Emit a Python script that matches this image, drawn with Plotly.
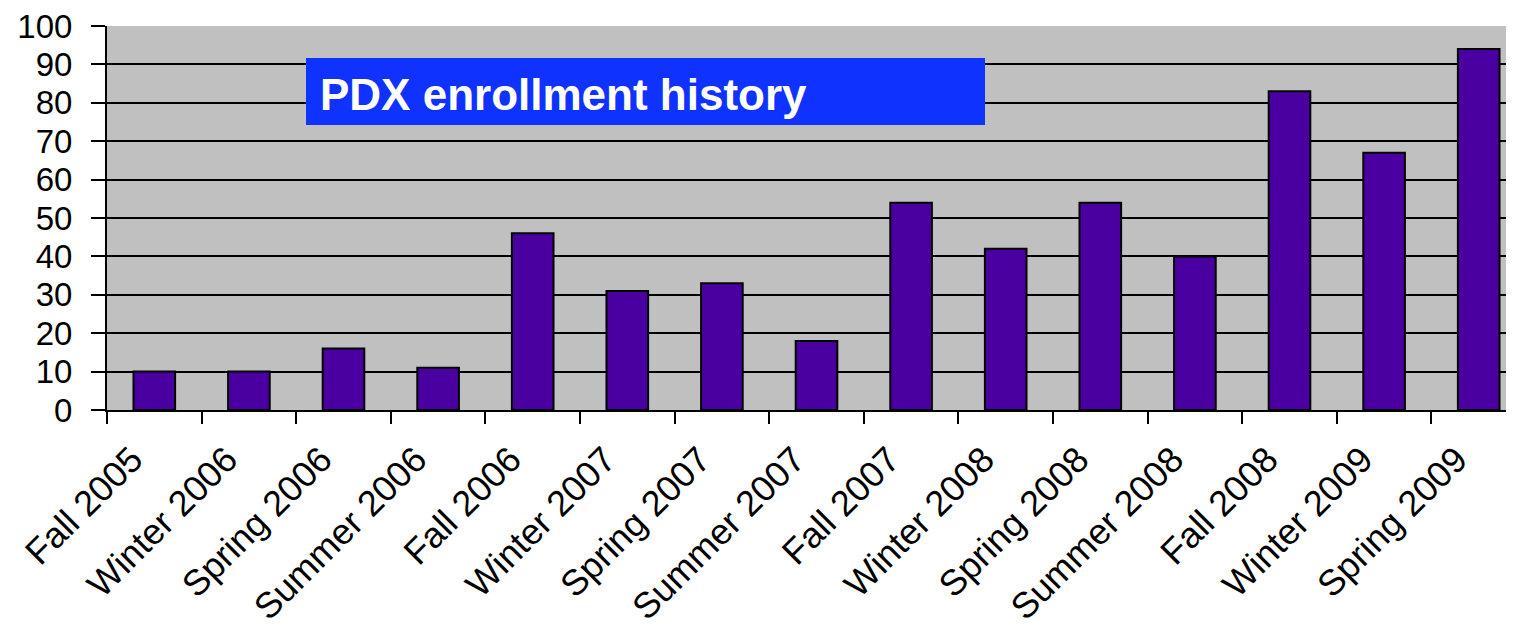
import plotly.graph_objects as go

categories = ["Fall 2005", "Winter 2006", "Spring 2006", "Summer 2006", "Fall 2006",
              "Winter 2007", "Spring 2007", "Summer 2007", "Fall 2007", "Winter 2008",
              "Spring 2008", "Summer 2008", "Fall 2008", "Winter 2009", "Spring 2009"]
enrollment = [10, 10, 16, 11, 46, 31, 33, 18, 54, 42, 54, 40, 83, 67, 94]
y_ticks = [0, 10, 20, 30, 40, 50, 60, 70, 80, 90, 100]
title_text = "PDX enrollment history"

# page body has an 8px margin; size the figure so that the page does not overflow
OFF = 8
W, H = 1514 - 2 * OFF, 635 - 2 * OFF
L = 107 - OFF
T = 26 - OFF
B = H - (410 - OFF)
R = 0

fig = go.Figure()
fig.add_trace(go.Bar(
    x=categories, y=enrollment, width=0.44,
    marker=dict(color="#4A00A0", line=dict(color="black", width=2)),
))

pw = W - L - R
ph = H - T - B

def px(x):
    return (x - OFF - L) / pw

def py(y):
    return (H - B - (y - OFF)) / ph

fig.add_shape(type="rect", xref="paper", yref="paper",
              x0=px(306), x1=px(985), y0=py(125), y1=py(58),
              fillcolor="#0F32FF", line=dict(width=0), layer="above")
fig.add_annotation(text="<b>" + title_text + "</b>", xref="paper", yref="paper",
                   x=px(318), y=py(94), xanchor="left", yanchor="middle",
                   showarrow=False,
                   font=dict(family="Liberation Sans, Arial", size=44, color="white"))

cat_w = 94.6
span = pw / cat_w

fig.update_layout(
    width=W, height=H,
    margin=dict(l=L, r=R, t=T, b=B, pad=0),
    paper_bgcolor="white", plot_bgcolor="#C0C0C0",
    showlegend=False,
    font=dict(family="Liberation Sans, Arial", color="black"),
    xaxis=dict(
        type="category", range=[-0.5, -0.5 + span], tickson="boundaries",
        ticks="outside", ticklen=12, tickwidth=2, tickcolor="black",
        showline=True, linecolor="black", linewidth=2,
        showgrid=False, tickangle=-45, automargin=False,
        ticklabelshift=-22, ticklabelstandoff=12, ticklabeloverflow="allow",
        tickfont=dict(family="Liberation Sans, Arial", size=36, color="black"),
    ),
    yaxis=dict(
        range=[0, 100], tickvals=y_ticks,
        ticks="outside", ticklen=14, tickwidth=2, tickcolor="black",
        showline=True, linecolor="black", linewidth=2,
        showgrid=True, gridcolor="black", gridwidth=2, zeroline=False,
        ticklabelstandoff=12, automargin=False, ticklabeloverflow="allow",
        tickfont=dict(family="Liberation Sans, Arial", size=33, color="black"),
    ),
)

fig.write_html("out.html")
